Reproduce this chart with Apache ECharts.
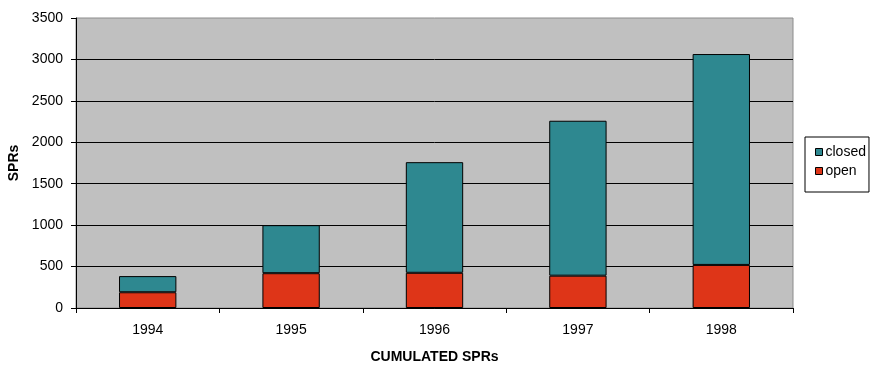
<!DOCTYPE html>
<html>
<head>
<meta charset="utf-8">
<style>
  html, body { margin: 0; padding: 0; background: #ffffff; }
  #chart { width: 872px; height: 367px; }
</style>
<script src="https://cdn.jsdelivr.net/npm/echarts@6/dist/echarts.min.js"></script>
</head>
<body>
<div id="chart"></div>
<script>
// Cumulated SPR counts per year, split into open and closed reports
const years = ['1994', '1995', '1996', '1997', '1998'];
const openSPRs = [190, 420, 425, 390, 520];
const closedSPRs = [195, 580, 1335, 1870, 2545];

const chart = echarts.init(document.getElementById('chart'));
const fontFamily = '"Liberation Sans", Arial, sans-serif';

chart.setOption({
  animation: false,
  backgroundColor: '#ffffff',
  textStyle: { fontFamily: fontFamily },
  grid: {
    left: 76, right: 79, top: 18, bottom: 59,
    containLabel: false,
    outerBoundsMode: 'none',
    show: true,
    backgroundColor: '#c0c0c0',
    borderColor: '#8c8c8c',
    borderWidth: 1
  },
  legend: {
    orient: 'vertical',
    left: 805,
    top: 137,
    width: 66,
    data: ['closed', 'open'],
    icon: 'rect',
    itemWidth: 7,
    itemHeight: 7,
    itemGap: 5,
    padding: [8, 3, 14, 10],
    borderColor: '#000000',
    borderWidth: 1,
    itemStyle: { borderColor: '#000000', borderWidth: 1 },
    textStyle: { fontSize: 14, color: '#000000', fontFamily: fontFamily, padding: [0, 0, 0, -2], height: 14, lineHeight: 14 }
  },
  xAxis: {
    type: 'category',
    data: years,
    name: 'CUMULATED SPRs',
    nameLocation: 'middle',
    nameGap: 42,
    nameTextStyle: { fontSize: 14, fontWeight: 'bold', color: '#000000' },
    axisLine: { lineStyle: { color: '#000000', width: 1 } },
    axisTick: { show: true, length: 5, lineStyle: { color: '#000000' } },
    axisLabel: { fontSize: 14, color: '#000000', margin: 15 }
  },
  yAxis: {
    type: 'value',
    min: 0,
    max: 3500,
    interval: 500,
    name: 'SPRs',
    nameLocation: 'middle',
    nameGap: 54,
    nameTextStyle: { fontSize: 14, fontWeight: 'bold', color: '#000000' },
    axisLine: { show: true, lineStyle: { color: '#000000', width: 1 } },
    axisTick: { show: true, length: 5, lineStyle: { color: '#000000' } },
    axisLabel: { fontSize: 14, color: '#000000', margin: 13, formatter: function (v) { return String(v); } },
    splitLine: { show: true, showMaxLine: false, lineStyle: { color: '#000000', width: 1 } }
  },
  series: [
    {
      name: 'open',
      type: 'bar',
      stack: 'total',
      data: openSPRs,
      barWidth: '40%',
      itemStyle: { color: '#de3518', borderColor: '#000000', borderWidth: 1 }
    },
    {
      name: 'closed',
      type: 'bar',
      stack: 'total',
      data: closedSPRs,
      barWidth: '40%',
      itemStyle: { color: '#2e8890', borderColor: '#000000', borderWidth: 1 }
    }
  ]
});
</script>
</body>
</html>
